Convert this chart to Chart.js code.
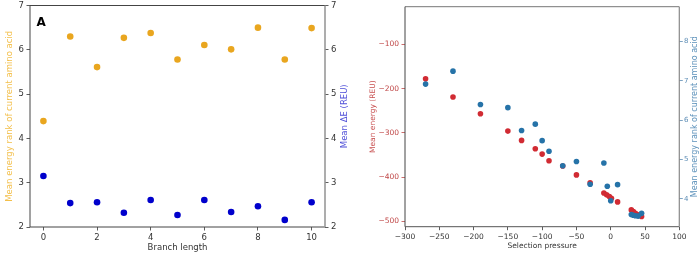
<!DOCTYPE html>
<html>
<head>
<meta charset="utf-8">
<script src="https://cdn.jsdelivr.net/npm/chart.js@4.4.1/dist/chart.umd.min.js"></script>
<style>
  html, body { margin: 0; padding: 0; background: #fff; }
  #wrap { position: relative; width: 700px; height: 254px; }
  .box { position: absolute; top: 0; width: 350px; height: 254px; }
</style>
</head>
<body>
<div id="wrap">
  <div class="box" style="left:0"><canvas id="chartA" width="350" height="254"></canvas></div>
  <div class="box" style="left:350px"><canvas id="chartB" width="350" height="254"></canvas></div>
</div>
<script>
// panel A data
const branchLength = [0, 1, 2, 3, 4, 5, 6, 7, 8, 9, 10];
const meanRank = [4.39, 6.30, 5.61, 6.27, 6.38, 5.78, 6.11, 6.01, 6.50, 5.78, 6.49];
const meanDeltaE = [3.15, 2.54, 2.56, 2.32, 2.61, 2.27, 2.61, 2.34, 2.47, 2.16, 2.56];
const branchTicks = [0, 2, 4, 6, 8, 10];
const panelATicks = [2, 3, 4, 5, 6, 7];

// panel B data
const pressureEnergy = [-270, -230, -190, -150, -130, -110, -100, -90, -70, -50, -30, -10, -6, -2, 1, 10, 30, 33, 36, 40, 45];
const meanEnergy = [-178, -219, -257, -296, -317, -336, -348, -363, -375, -395, -413, -436, -440, -444, -448, -456, -474, -478, -482, -485, -489];
const pressureRank = [-270, -230, -190, -150, -130, -110, -100, -90, -70, -50, -30, -10, -5, 0, 10, 30, 33, 36, 40, 45];
const rankB = [6.92, 7.25, 6.40, 6.32, 5.74, 5.90, 5.48, 5.21, 4.84, 4.95, 4.37, 4.91, 4.32, 3.95, 4.36, 3.60, 3.58, 3.57, 3.56, 3.63];
const pressureTicks = [-300, -250, -200, -150, -100, -50, 0, 50, 100];
const energyTicks = [-500, -400, -300, -200, -100];
const rankTicks = [4, 5, 6, 7, 8];

const FONT = 'DejaVu Sans';

function toPoints(xs, ys) {
  return xs.map((x, i) => ({ x: x, y: ys[i] }));
}

function minus(v) {
  return String(v).replace('-', '\u2212');
}

// fixed axis sizes so the plot areas sit where the reference has them
function axis(opts) {
  const vertical = opts.position !== 'bottom';
  return {
    type: 'linear',
    position: opts.position,
    min: opts.min,
    max: opts.max,
    afterBuildTicks: s => { s.ticks = opts.ticks.map(v => ({ value: v })); },
    afterFit: s => {
      if (vertical) { s.width = opts.size; s.paddingTop = 0; s.paddingBottom = 0; }
      else { s.height = opts.size; s.paddingLeft = 0; s.paddingRight = 0; }
    },
    border: { display: false },
    grid: { drawOnChartArea: false, drawTicks: true, tickLength: 3.5, color: opts.tickColor || '#333', lineWidth: 0.8 },
    ticks: {
      color: opts.labelColor || '#333',
      font: { family: FONT, size: opts.fontSize },
      padding: opts.tickPad !== undefined ? opts.tickPad : 2.5,
      maxRotation: 0,
      minRotation: 0,
      autoSkip: false,
      callback: opts.callback || (v => v)
    },
    title: {
      display: !!opts.title,
      text: opts.title || '',
      color: opts.titleColor,
      font: { family: FONT, size: opts.fontSize },
      padding: opts.titlePad || 0
    }
  };
}

// spines drawn by hand, matplotlib style; right-hand label reads bottom-up like matplotlib
function spines(cfg) {
  return {
    id: 'spines',
    afterDraw(chart) {
      const { ctx, chartArea: a } = chart;
      ctx.save();
      const line = (x1, y1, x2, y2, c, w) => {
        ctx.beginPath();
        ctx.strokeStyle = c;
        ctx.lineWidth = w;
        ctx.moveTo(x1, y1);
        ctx.lineTo(x2, y2);
        ctx.stroke();
      };
      line(a.left, a.top, a.right, a.top, cfg.top, 1);
      line(a.left, a.bottom, a.right, a.bottom, cfg.bottom, 1);
      line(a.left, a.top, a.left, a.bottom, cfg.left, 1);
      line(a.right, a.top, a.right, a.bottom, cfg.right, cfg.rightWidth || 1);
      if (cfg.letter) {
        ctx.fillStyle = '#000';
        ctx.font = 'bold 12px ' + FONT;
        ctx.textBaseline = 'middle';
        ctx.fillText(cfg.letter, a.left + 6.5, a.top + 17);
      }
      if (cfg.rightTitle) {
        const t = cfg.rightTitle;
        ctx.translate(a.right + t.dx, (a.top + a.bottom) / 2);
        ctx.rotate(-Math.PI / 2);
        ctx.fillStyle = t.color;
        ctx.font = t.size + 'px ' + FONT;
        ctx.textAlign = 'center';
        ctx.textBaseline = 'middle';
        ctx.fillText(t.text, 0, 0);
      }
      ctx.restore();
    }
  };
}

new Chart(document.getElementById('chartA'), {
  type: 'scatter',
  data: {
    datasets: [
      {
        label: 'rank',
        data: toPoints(branchLength, meanRank),
        yAxisID: 'y',
        backgroundColor: '#e9a61f',
        borderWidth: 0,
        pointRadius: 3.3
      },
      {
        label: 'deltaE',
        data: toPoints(branchLength, meanDeltaE),
        yAxisID: 'y2',
        backgroundColor: '#0000cc',
        borderWidth: 0,
        pointRadius: 3.3
      }
    ]
  },
  options: {
    responsive: false,
    devicePixelRatio: 1,
    animation: false,
    layout: { padding: { top: 5.5, left: 0, right: 0, bottom: 0 } },
    plugins: { legend: { display: false }, tooltip: { enabled: false } },
    scales: {
      x: axis({ position: 'bottom', min: -0.5, max: 10.5, ticks: branchTicks, size: 27, fontSize: 8.5,
        title: 'Branch length', titleColor: '#333', titlePad: { top: 0, bottom: 1.2 } }),
      y: axis({ position: 'left', min: 2, max: 7, ticks: panelATicks, size: 30, fontSize: 8.5,
        title: 'Mean energy rank of current amino acid', titleColor: '#f3bf4a', titlePad: { top: 4.2, bottom: 0 } }),
      y2: axis({ position: 'right', min: 2, max: 7, ticks: panelATicks, size: 25, fontSize: 8.5 })
    }
  },
  plugins: [spines({ top: '#444', bottom: '#444', left: '#444', right: '#999', rightWidth: 1.6, letter: 'A',
    rightTitle: { text: 'Mean \u0394E (REU)', color: '#5050d8', size: 8.5, dx: 20 } })]
});

new Chart(document.getElementById('chartB'), {
  type: 'scatter',
  data: {
    datasets: [
      {
        label: 'rank',
        data: toPoints(pressureRank, rankB),
        yAxisID: 'y2',
        backgroundColor: '#2673a8',
        borderWidth: 0,
        pointRadius: 2.8
      },
      {
        label: 'energy',
        data: toPoints(pressureEnergy, meanEnergy),
        yAxisID: 'y',
        backgroundColor: '#d12b33',
        borderWidth: 0,
        pointRadius: 2.8
      }
    ]
  },
  options: {
    responsive: false,
    devicePixelRatio: 1,
    animation: false,
    layout: { padding: { top: 6.7, left: 0, right: 0, bottom: 0 } },
    plugins: { legend: { display: false }, tooltip: { enabled: false } },
    scales: {
      x: axis({ position: 'bottom', min: -300, max: 100, ticks: pressureTicks, size: 27.3, fontSize: 7.5,
        title: 'Selection pressure', titleColor: '#333', titlePad: { top: 0, bottom: 3.5 }, callback: minus }),
      y: axis({ position: 'left', min: -512, max: -15, ticks: energyTicks, size: 55, fontSize: 7.5,
        title: 'Mean energy (REU)', titleColor: '#c85050', labelColor: '#c04848', tickColor: '#c04848',
        titlePad: { top: 18.2, bottom: 0 }, callback: minus }),
      y2: axis({ position: 'right', min: 3.29, max: 8.89, ticks: rankTicks, size: 20.7, fontSize: 7,
        labelColor: '#5d8db5', tickColor: '#5d8db5', tickPad: 1.2 })
    }
  },
  plugins: [spines({ top: '#777', bottom: '#555', left: '#444', right: '#888', rightWidth: 1.2,
    rightTitle: { text: 'Mean energy rank of current amino acid', color: '#5d92bb', size: 8, dx: 15.5 } })]
});
</script>
</body>
</html>
